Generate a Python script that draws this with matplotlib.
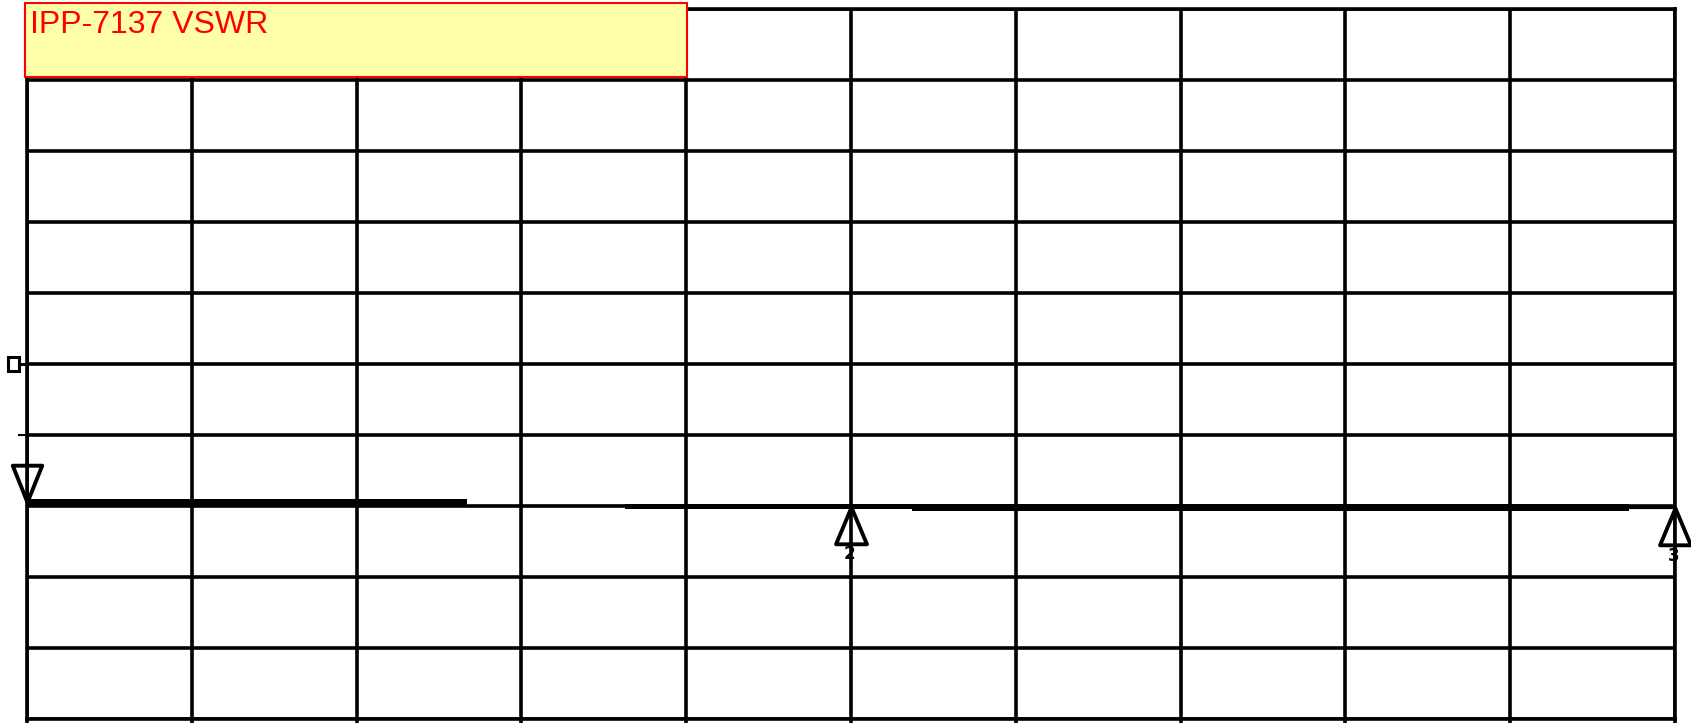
import matplotlib
import matplotlib.pyplot as plt
from matplotlib.patches import Rectangle
from matplotlib.path import Path

matplotlib.use('Agg')

# sweep in screen divisions (10 x 10 graticule)
seg_start = [0.0, 2.67, 3.63, 5.37, 9.72]
seg_end = [2.67, 3.63, 5.37, 9.72, 10.0]
vswr_lo = [3.00, 3.00, 2.96, 2.93, 2.97]
vswr_hi = [3.09, 3.00, 3.03, 3.02, 2.97]

marker_ids = ['1', '2', '3']
marker_x = [0.0, 5.0, 10.0]
marker_y = [3.05, 2.99, 2.97]

ref_level = 5
title = 'IPP-7137 VSWR'

fig = plt.figure(figsize=(16.91, 7.27), dpi=100)
ax = fig.add_axes([27 / 1691, 1 - 719 / 727, 1648 / 1691, 710.5 / 727])
ax.set_xlim(0, 10)
ax.set_ylim(0, 10)
ax.set_xticks(range(11))
ax.set_yticks(range(11))
ax.grid(True, color='black', linewidth=2.6)
ax.set_axisbelow(True)
for s in ax.spines.values():
    s.set_linewidth(2.6)
    s.set_color('black')
ax.tick_params(labelbottom=False, labelleft=False, left=False,
               bottom=True, direction='out', length=3, width=2.6)

# trace
for i in range(len(seg_start)):
    xs = [seg_start[i], seg_end[i]]
    lo = vswr_lo[i]
    hi = vswr_hi[i]
    if hi > lo:
        ax.fill_between(xs, [lo, lo], [hi, hi], color='black', linewidth=0, zorder=3)
    else:
        ax.plot(xs, [lo, lo], color='black', linewidth=1.6, zorder=3)

# marker triangles, tip on the trace
down_tri = Path([(0, 0), (-0.4, 1), (0.4, 1), (0, 0)], [1, 2, 2, 79])
up_tri = Path([(0, 0), (-0.42, -1), (0.42, -1), (0, 0)], [1, 2, 2, 79])
for mid, mx, my in zip(marker_ids, marker_x, marker_y):
    path = down_tri if mid == '1' else up_tri
    ax.plot([mx], [my], marker=path, markersize=53, markerfacecolor='none',
            markeredgecolor='black', markeredgewidth=2.8, clip_on=False, zorder=5)
    if mid != '1':
        ax.annotate(mid, (mx, my), xytext=(-1, -28), textcoords='offset points',
                    ha='center', va='top', fontsize=12, fontweight='bold',
                    annotation_clip=False, zorder=5)

# reference level pointer on the left
ref_y = ax.transData.transform((0, ref_level))[1]
y_ax = ax.transAxes.inverted().transform((0, ref_y))[1]
px = 1 / 1648
py = 1 / 710.5
ax.add_patch(Rectangle((-19 * px, y_ax - 7 * py), 11 * px, 14 * py, transform=ax.transAxes,
                       fill=False, edgecolor='black', linewidth=2.2, clip_on=False))
ax.plot([-8 * px, 0], [y_ax, y_ax], transform=ax.transAxes, color='black',
        linewidth=2.2, clip_on=False)
# small stub on the left at division 4
ax.plot([-8 * px, 0], [0.4, 0.4], transform=ax.transAxes, color='black',
        linewidth=1.5, clip_on=False)

# title box
ax.add_patch(Rectangle((-0.001, 0.904), 0.4015, 0.104, transform=ax.transAxes,
                       facecolor='#ffffaa', edgecolor='#ff0000', linewidth=1.5,
                       clip_on=False, zorder=6))
ax.text(0.002, 0.998, title, transform=ax.transAxes, color='#ff0000',
        fontsize=23, family=['Liberation Sans', 'DejaVu Sans'],
        ha='left', va='top', zorder=7)

fig.savefig('out.png', dpi=100)
